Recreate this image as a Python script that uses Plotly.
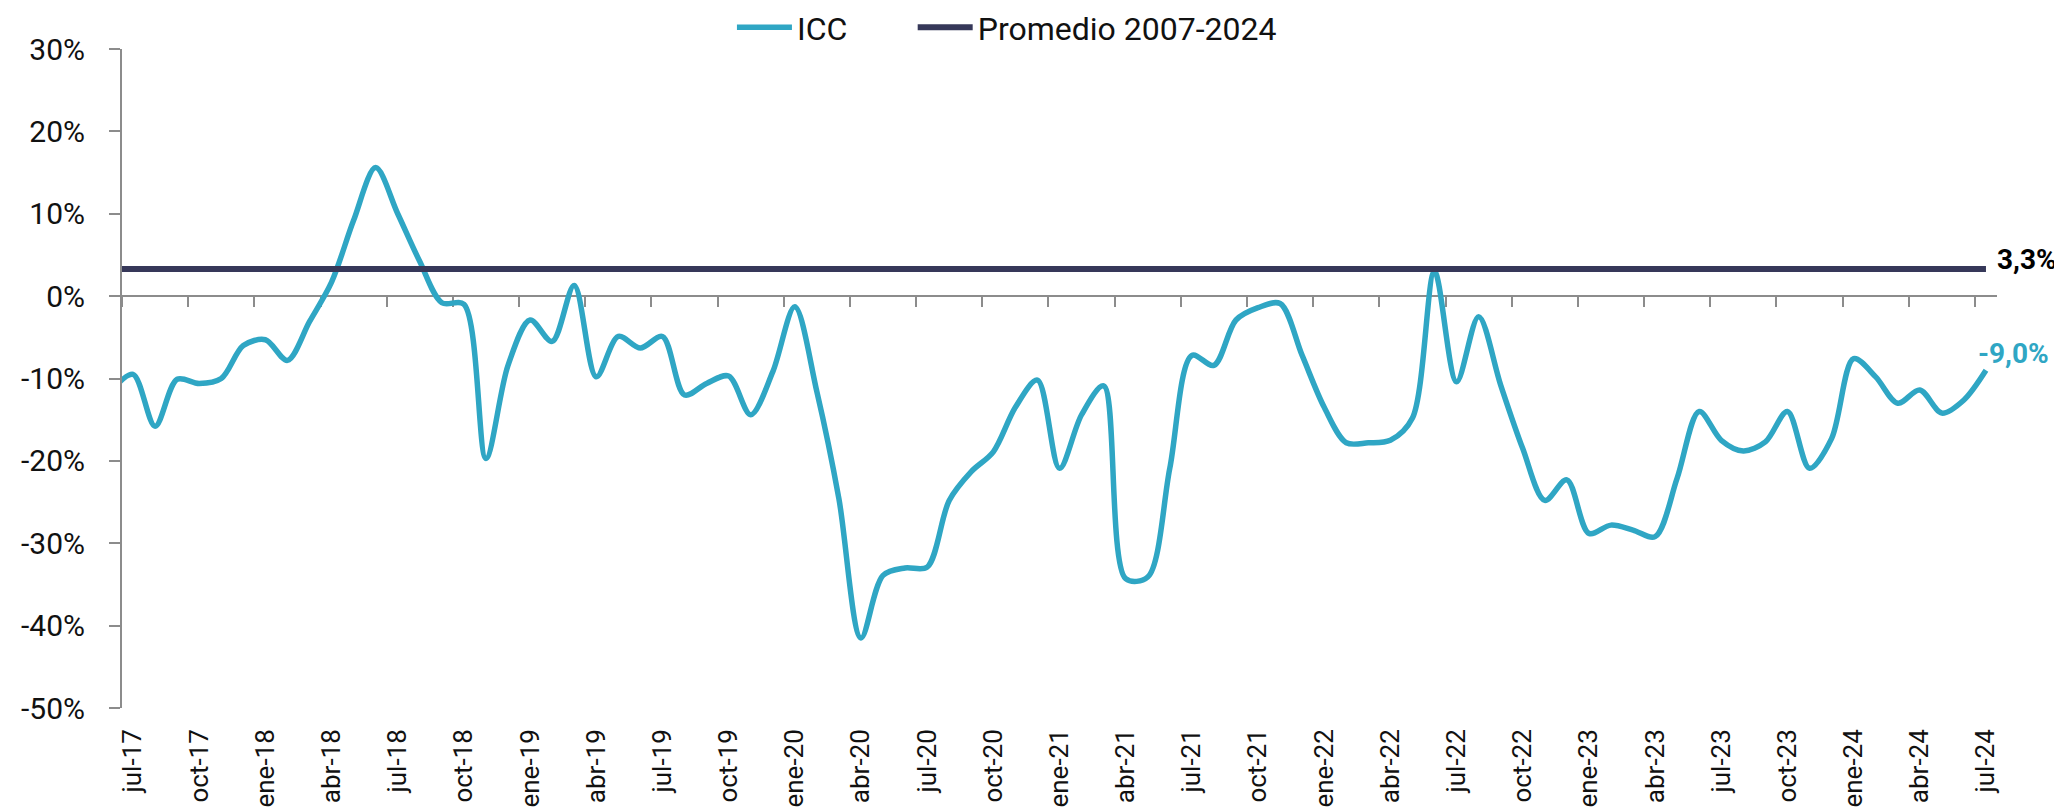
import plotly.graph_objects as go

# ---- data -------------------------------------------------------------
meses = [
    "jun-17", "jul-17", "ago-17", "sep-17", "oct-17", "nov-17", "dic-17",
    "ene-18", "feb-18", "mar-18", "abr-18", "may-18", "jun-18", "jul-18", "ago-18", "sep-18", "oct-18", "nov-18", "dic-18",
    "ene-19", "feb-19", "mar-19", "abr-19", "may-19", "jun-19", "jul-19", "ago-19", "sep-19", "oct-19", "nov-19", "dic-19",
    "ene-20", "feb-20", "mar-20", "abr-20", "may-20", "jun-20", "jul-20", "ago-20", "sep-20", "oct-20", "nov-20", "dic-20",
    "ene-21", "feb-21", "mar-21", "abr-21", "may-21", "jun-21", "jul-21", "ago-21", "sep-21", "oct-21", "nov-21", "dic-21",
    "ene-22", "feb-22", "mar-22", "abr-22", "may-22", "jun-22", "jul-22", "ago-22", "sep-22", "oct-22", "nov-22", "dic-22",
    "ene-23", "feb-23", "mar-23", "abr-23", "may-23", "jun-23", "jul-23", "ago-23", "sep-23", "oct-23", "nov-23", "dic-23",
    "ene-24", "feb-24", "mar-24", "abr-24", "may-24", "jun-24", "jul-24",
]

icc = [
    -11.5, -9.5, -15.8, -10.1, -10.6, -10.0, -6.0,
    -5.3, -7.8, -3.1, 1.7, 9.2, 15.6, 10.0, 4.2, -0.8, -1.0, -19.7, -8.4,
    -2.9, -5.5, 1.3, -9.8, -4.9, -6.3, -4.9, -12.0, -10.6, -9.7, -14.4, -9.2,
    -1.3, -11.6, -24.6, -41.5, -33.9, -33.0, -32.9, -24.8, -21.3, -18.9, -13.5, -10.2,
    -20.9, -14.4, -10.9, -34.3, -34.1, -20.9, -7.2, -8.4, -2.9, -1.4, -0.9, -7.2,
    -13.5, -17.8, -17.8, -17.5, -14.8, 3.0, -10.4, -2.5, -10.8, -18.5, -24.8, -22.3,
    -28.8, -27.8, -28.4, -29.2, -22.1, -14.0, -17.5, -18.8, -17.7, -14.0, -20.9, -17.3,
    -7.6, -9.8, -13.0, -11.4, -14.2, -12.6, -9.0,
]

promedio_valor = 3.3
promedio = [promedio_valor] * len(meses)

tick_labels = [
    "jul-17", "oct-17", "ene-18", "abr-18", "jul-18", "oct-18", "ene-19", "abr-19",
    "jul-19", "oct-19", "ene-20", "abr-20", "jul-20", "oct-20", "ene-21", "abr-21",
    "jul-21", "oct-21", "ene-22", "abr-22", "jul-22", "oct-22", "ene-23", "abr-23",
    "jul-23", "oct-23", "ene-24", "abr-24", "jul-24",
]

y_ticks = [30, 20, 10, 0, -10, -20, -30, -40, -50]
y_tick_text = ["30%", "20%", "10%", "0%", "-10%", "-20%", "-30%", "-40%", "-50%"]

ultimo_label = "-9,0%"
promedio_label = "3,3%"

# ---- positions (index 0 = jul-17; first month sits left of the axis) ----
x_pos = [meses.index(m) - 1 for m in meses]
label_pos = [meses.index(t) - 1 for t in tick_labels]
boundary_pos = [p - 0.5 for p in label_pos]

TEAL = "#2FA6C4"
NAVY = "#363859"
AXIS = "#8C8C8C"
FONT = "Roboto, Liberation Sans, sans-serif"

fig = go.Figure()
fig.add_trace(go.Scatter(
    x=x_pos, y=icc, name="ICC", mode="lines",
    line=dict(color=TEAL, width=5.5, shape="spline", smoothing=0.9),
    hoverinfo="skip", legend="legend",
))
fig.add_trace(go.Scatter(
    x=x_pos, y=promedio, name="Promedio 2007-2024", mode="lines",
    line=dict(color=NAVY, width=6),
    hoverinfo="skip", legend="legend2",
))

xr = [-0.5, len(meses) - 1.5]

leg_common = dict(
    orientation="h", xanchor="left", yanchor="middle", y=1.0326,
    font=dict(family=FONT, size=32, color="#111111"),
    bgcolor="rgba(0,0,0,0)", itemwidth=55,
    itemclick=False, itemdoubleclick=False,
)

fig.update_layout(
    width=2062, height=812,
    paper_bgcolor="white", plot_bgcolor="white",
    margin=dict(l=114, r=73, t=41, b=112, autoexpand=False),
    showlegend=True,
    legend=dict(x=0.3253, **leg_common),
    legend2=dict(x=0.4217, **leg_common),
    xaxis=dict(
        range=xr, tickmode="array", tickvals=label_pos, ticktext=tick_labels,
        tickangle=-90, showline=False, showgrid=False, zeroline=False,
        ticks="", ticklabelstandoff=15,
        tickfont=dict(family=FONT, size=26, color="#111111"),
        fixedrange=True,
    ),
    xaxis2=dict(
        overlaying="x", matches="x", anchor="free", position=50 / 80, side="bottom",
        range=xr, tickmode="array", tickvals=boundary_pos, showticklabels=False,
        showline=True, linecolor=AXIS, linewidth=2, ticks="outside", ticklen=10,
        tickwidth=2, tickcolor=AXIS, showgrid=False, zeroline=False, layer="below traces",
    ),
    yaxis=dict(
        range=[-50, 30], tickmode="array", tickvals=y_ticks, ticktext=y_tick_text,
        showline=True, linecolor=AXIS, linewidth=2, ticks="outside", ticklen=11,
        tickwidth=2, tickcolor=AXIS, showgrid=False, zeroline=False,
        ticklabelstandoff=18, layer="below traces",
        tickfont=dict(family=FONT, size=30, color="#111111"),
    ),
)

# invisible trace so xaxis2 is drawn
fig.add_trace(go.Scatter(x=[xr[0]], y=[0], xaxis="x2", mode="markers",
                         marker=dict(opacity=0), showlegend=False, hoverinfo="skip"))

fig.add_annotation(
    x=x_pos[-1], y=promedio_valor, text="<b>" + promedio_label + "</b>",
    xanchor="left", yanchor="middle", xshift=9, yshift=9, showarrow=False,
    font=dict(family=FONT, size=28, color="#000000"),
)
fig.add_annotation(
    x=x_pos[-1], y=icc[-1], text="<b>" + ultimo_label + "</b>",
    xanchor="left", yanchor="middle", xshift=-10, yshift=17, showarrow=False,
    font=dict(family=FONT, size=28, color=TEAL),
)

fig.write_html("out.html")
